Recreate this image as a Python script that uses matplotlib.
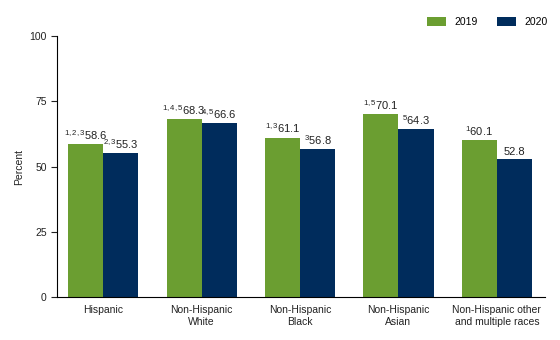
import matplotlib
matplotlib.use("Agg")
import matplotlib.pyplot as plt
import numpy as np

plt.rcParams["font.family"] = ["Liberation Sans", "DejaVu Sans"]
plt.rcParams["mathtext.fontset"] = "custom"
plt.rcParams["mathtext.rm"] = "Liberation Sans"
plt.rcParams["mathtext.it"] = "Liberation Sans"

categories = ["Hispanic", "Non-Hispanic\nWhite", "Non-Hispanic\nBlack",
              "Non-Hispanic\nAsian", "Non-Hispanic other\nand multiple races"]
values_2019 = [58.6, 68.3, 61.1, 70.1, 60.1]
values_2020 = [55.3, 66.6, 56.8, 64.3, 52.8]
notes_2019 = ["1,2,3", "1,4,5", "1,3", "1,5", "1"]
notes_2020 = ["2,3", "4,5", "3", "5", ""]
years = ["2019", "2020"]

GREEN = "#6b9e31"
NAVY = "#002c5c"


def label(note, value):
    if note:
        return r"$^{\mathregular{" + note + "}}$" + f"{value:.1f}"
    return f"{value:.1f}"


def main():
    fig = plt.figure(figsize=(5.6, 3.4), dpi=100)
    ax = fig.add_axes([0.102, 0.1265, 0.871, 0.7675])

    x = np.arange(len(categories))
    w = 0.356
    b1 = ax.bar(x - w / 2, values_2019, w, color=GREEN, label=years[0])
    b2 = ax.bar(x + w / 2, values_2020, w, color=NAVY, label=years[1])

    for bars, vals, notes in [(b1, values_2019, notes_2019), (b2, values_2020, notes_2020)]:
        for bar, v, n in zip(bars, vals, notes):
            ax.text(bar.get_x() + bar.get_width() / 2, v + 0.8, label(n, v),
                    ha="center", va="bottom", fontsize=8, color="#222222")

    ax.set_xlim(-0.467, len(categories) - 1 + 0.487)
    ax.set_ylim(0, 100)
    ax.set_yticks([0, 25, 50, 75, 100])
    ax.set_xticks(x)
    ax.set_xticklabels(categories, fontsize=7.5, color="#222222")
    ax.tick_params(axis="x", length=0, pad=6)
    ax.tick_params(axis="y", labelsize=7.5, length=4, width=0.8, colors="#222222")
    ax.set_ylabel("Percent", fontsize=7.5, color="#222222", labelpad=4)

    for side in ["top", "right"]:
        ax.spines[side].set_visible(False)
    for side in ["left", "bottom"]:
        ax.spines[side].set_color("black")
        ax.spines[side].set_linewidth(0.8)

    fig.legend(loc="center right", bbox_to_anchor=(0.995, 0.935), ncol=2,
               frameon=False, fontsize=7.5, handlelength=1.8, handleheight=0.9,
               columnspacing=1.9, handletextpad=0.8)

    fig.savefig("out.png", dpi=100)
    plt.close(fig)


if __name__ == "__main__":
    main()
